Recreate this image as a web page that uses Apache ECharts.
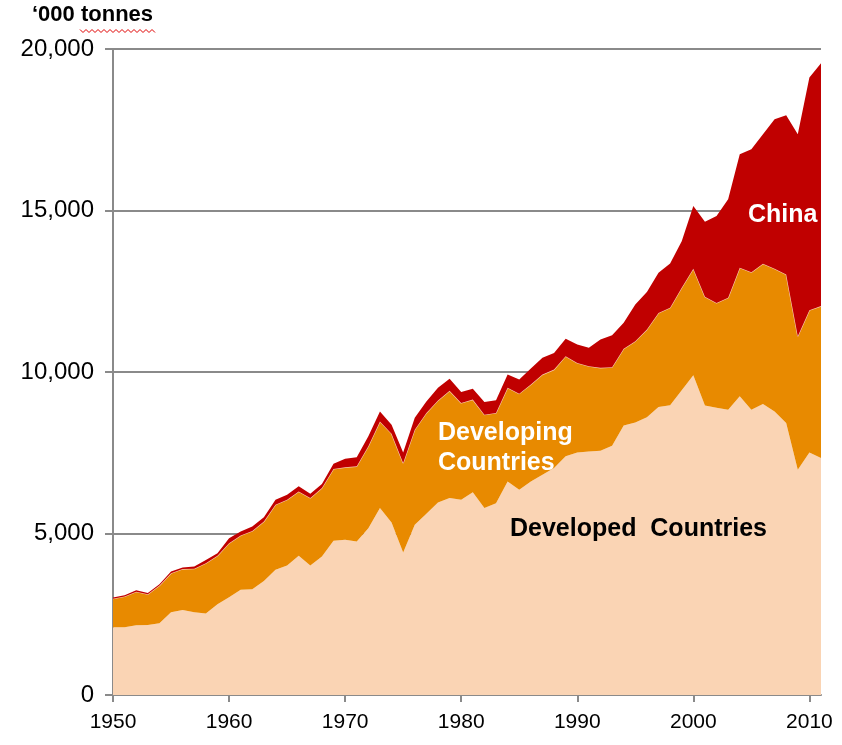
<!DOCTYPE html>
<html>
<head>
<meta charset="utf-8">
<script src="https://cdn.jsdelivr.net/npm/echarts@6/dist/echarts.min.js"></script>
<style>
  html, body { margin: 0; padding: 0; background: #fff; }
  #chart { width: 842px; height: 745px; }
</style>
</head>
<body>
<div id="chart"></div>
<script>
// ---- Data ('000 tonnes) ----
const years = [];
for (let y = 1950; y <= 2011; y++) years.push(String(y));

const developed = [
  2100, 2100, 2160, 2170, 2220, 2560, 2630, 2560, 2520, 2810,
  3030, 3255, 3275, 3530, 3875, 4010, 4310, 4010, 4290, 4775,
  4805, 4750, 5165, 5790, 5340, 4410, 5270, 5610, 5960, 6100,
  6045, 6280, 5790, 5940, 6610, 6355, 6610, 6820, 7025, 7390,
  7510, 7540, 7565, 7720, 8340, 8440, 8600, 8920, 8970, 9435,
  9900, 8960, 8890, 8835, 9250, 8835, 9010, 8780, 8420, 6975,
  7510, 7335
];
const developing = [
  880, 950, 1040, 950, 1170, 1210, 1270, 1350, 1560, 1500,
  1670, 1685, 1805, 1840, 2015, 2035, 1990, 2090, 2120, 2225,
  2245, 2330, 2535, 2680, 2750, 2770, 2945, 3120, 3160, 3320,
  2995, 2865, 2890, 2790, 2900, 2975, 3000, 3100, 3050, 3100,
  2770, 2640, 2565, 2430, 2380, 2515, 2715, 2910, 3020, 3175,
  3300, 3370, 3250, 3465, 3980, 4255, 4340, 4415, 4600, 4135,
  4400, 4705
];
const china = [
  40, 40, 40, 40, 40, 50, 50, 70, 100, 80,
  150, 120, 140, 130, 155, 155, 160, 130, 120, 160,
  265, 280, 310, 310, 280, 330, 365, 360, 390, 370,
  340, 335, 395, 395, 410, 435, 495, 520, 515, 540,
  570, 570, 875, 990, 805, 1135, 1160, 1245, 1370, 1440,
  1940, 2320, 2690, 3045, 3510, 3805, 4010, 4630, 4930, 6250,
  7205, 7520
];
const yTicks = [0, 5000, 10000, 15000, 20000];
const seriesNames = ['Developed Countries', 'Developing Countries', 'China'];
const yTitle = '\u2018000 tonnes';

// ---- Chart ----
const chart = echarts.init(document.getElementById('chart'), null, { renderer: 'canvas' });
const FONT = '"Liberation Sans", Arial, sans-serif';
const AXIS_GRAY = '#8a8a8a';

function wavy(x0, x1, y, amp, step) {
  const pts = [];
  let up = true;
  for (let x = x0; x <= x1; x += step) { pts.push([x, y + (up ? -amp : amp)]); up = !up; }
  return pts;
}

chart.setOption({
  animation: false,
  backgroundColor: '#ffffff',
  grid: { left: 113, right: 21, top: 49, bottom: 50, containLabel: false },
  xAxis: {
    type: 'category',
    data: years,
    boundaryGap: false,
    axisLine: { lineStyle: { color: AXIS_GRAY, width: 2 } },
    axisTick: {
      show: true, length: 7, lineStyle: { color: AXIS_GRAY, width: 2 },
      interval: (i, v) => Number(v) % 10 === 0
    },
    axisLabel: {
      interval: (i, v) => Number(v) % 10 === 0,
      color: '#000', fontSize: 21, fontFamily: FONT, margin: 17
    },
    splitLine: { show: false }
  },
  yAxis: {
    type: 'value',
    min: yTicks[0], max: yTicks[yTicks.length - 1], interval: 5000,
    axisLine: { show: true, lineStyle: { color: AXIS_GRAY, width: 2 } },
    axisTick: { show: true, length: 8, lineStyle: { color: AXIS_GRAY, width: 2 } },
    axisLabel: {
      color: '#000', fontSize: 24, fontFamily: FONT, margin: 19,
      formatter: v => v.toLocaleString('en-US')
    },
    splitLine: { show: true, lineStyle: { color: AXIS_GRAY, width: 2 } }
  },
  series: [
    {
      name: seriesNames[0], type: 'line', stack: 'total', data: developed,
      showSymbol: false, symbol: 'none',
      lineStyle: { width: 0 },
      areaStyle: { color: '#FAD4B4', opacity: 1 },
      z: 2
    },
    {
      name: seriesNames[1], type: 'line', stack: 'total', data: developing,
      showSymbol: false, symbol: 'none',
      lineStyle: { width: 1.2, color: '#f6c9b4' },
      areaStyle: { color: '#E88A00', opacity: 1 },
      z: 3
    },
    {
      name: seriesNames[2], type: 'line', stack: 'total', data: china,
      showSymbol: false, symbol: 'none',
      lineStyle: { width: 0 },
      areaStyle: { color: '#C00000', opacity: 1 },
      z: 4
    }
  ],
  graphic: [
    {
      type: 'text', left: 32, top: 4, z: 10,
      style: { text: yTitle, fill: '#000', font: 'bold 22px ' + FONT }
    },
    {
      type: 'polyline', z: 10,
      shape: { points: wavy(80, 156, 31, 1.5, 3) },
      style: { stroke: '#e00000', lineWidth: 1, fill: null }
    },
    {
      type: 'text', left: 748, top: 203, z: 10,
      style: { text: seriesNames[2], fill: '#fff', font: 'bold 25px ' + FONT }
    },
    {
      type: 'text', left: 438, top: 418, z: 10,
      style: { text: 'Developing\nCountries', fill: '#fff', font: 'bold 25px ' + FONT, lineHeight: 30 }
    },
    {
      type: 'text', left: 510, top: 517, z: 10,
      style: { text: 'Developed  Countries', fill: '#000', font: 'bold 25px ' + FONT }
    }
  ]
});
</script>
</body>
</html>
